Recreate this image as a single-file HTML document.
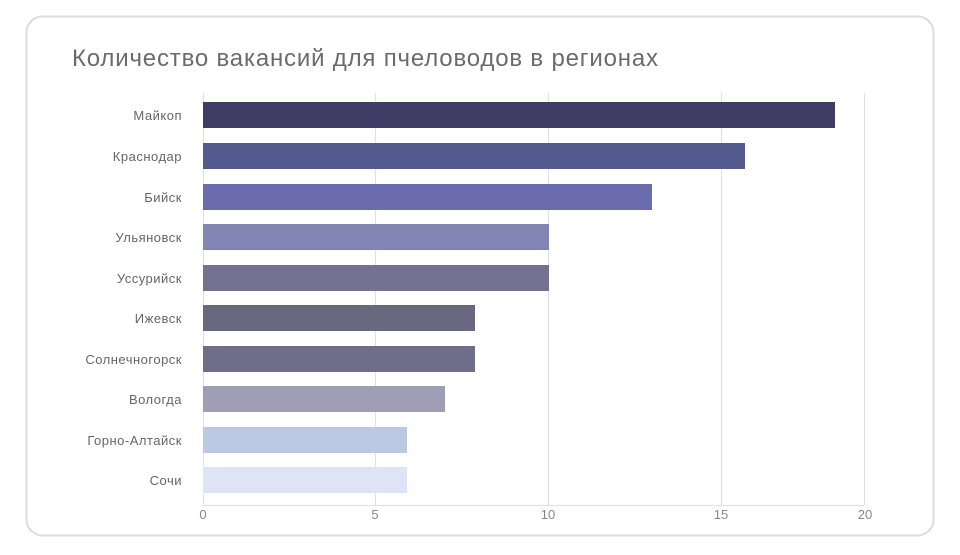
<!DOCTYPE html><html><head><meta charset="utf-8"><style>
body{margin:0;background:#fff;font-family:"Liberation Sans",sans-serif;}
</style></head><body>
<svg width="960" height="550" xmlns="http://www.w3.org/2000/svg" font-family="Liberation Sans, sans-serif">
<rect x="26.5" y="16.5" width="907" height="519" rx="16" fill="#fff" stroke="#dcdcdc" stroke-width="2"/>
<text x="72" y="66" font-size="24" fill="#6b6b6b" textLength="586" lengthAdjust="spacing">Количество вакансий для пчеловодов в регионах</text>
<g stroke="#e2e2e4" stroke-width="1.2">
<line x1="203.5" y1="93" x2="203.5" y2="505"/>
<line x1="375.5" y1="93" x2="375.5" y2="505"/>
<line x1="548.5" y1="93" x2="548.5" y2="505"/>
<line x1="721.5" y1="93" x2="721.5" y2="505"/>
<line x1="864.5" y1="93" x2="864.5" y2="505"/>
<line x1="203" y1="505.5" x2="864" y2="505.5"/>
</g>
<g font-size="13" fill="#888" text-anchor="middle">
<text x="203" y="519">0</text><text x="375" y="519">5</text><text x="548" y="519">10</text><text x="721" y="519">15</text><text x="865" y="519">20</text>
</g>
<g>
<rect x="203" y="102" width="632" height="26" fill="#3f3d66"/>
<rect x="203" y="143" width="542" height="26" fill="#525a8e"/>
<rect x="203" y="184" width="449" height="26" fill="#6a6cad"/>
<rect x="203" y="224" width="346" height="26" fill="#8284b3"/>
<rect x="203" y="265" width="346" height="26" fill="#757190"/>
<rect x="203" y="305" width="272" height="26" fill="#6a687e"/>
<rect x="203" y="346" width="272" height="26" fill="#6e6d8a"/>
<rect x="203" y="386" width="242" height="26" fill="#a09eb5"/>
<rect x="203" y="427" width="204" height="26" fill="#bcc9e4"/>
<rect x="203" y="467" width="204" height="26" fill="#dde4f6"/>
</g>
<g font-size="13" fill="#666" text-anchor="end" letter-spacing="0.5">
<text x="182" y="120">Майкоп</text>
<text x="182" y="161">Краснодар</text>
<text x="182" y="202">Бийск</text>
<text x="182" y="242">Ульяновск</text>
<text x="182" y="283">Уссурийск</text>
<text x="182" y="323">Ижевск</text>
<text x="182" y="364">Солнечногорск</text>
<text x="182" y="404">Вологда</text>
<text x="182" y="445">Горно-Алтайск</text>
<text x="182" y="485">Сочи</text>
</g>
</svg>
</body></html>
